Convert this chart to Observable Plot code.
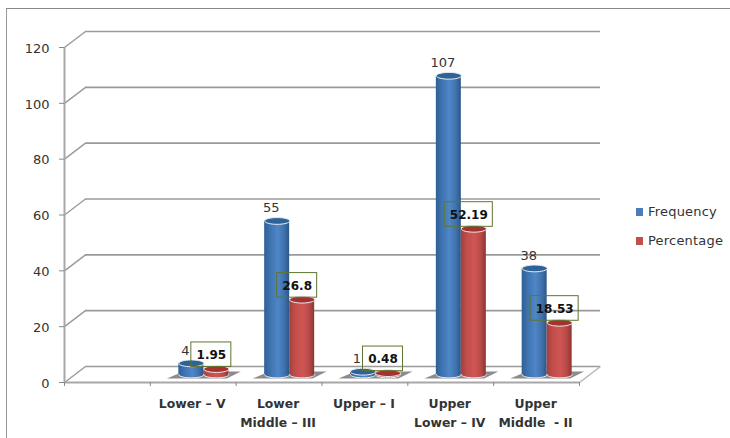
<!DOCTYPE html>
<html>
<head>
<meta charset="utf-8">
<script src="https://cdn.jsdelivr.net/npm/d3@7"></script>
<script src="https://cdn.jsdelivr.net/npm/@observablehq/plot@0.6"></script>
<style>
html, body { margin: 0; padding: 0; background: #fff; width: 730px; height: 438px; overflow: hidden; }
#wrap { position: relative; width: 730px; height: 438px; font-family: "DejaVu Sans", sans-serif; }
#wrap svg { position: absolute; left: 0; top: 0; }
#edge { position: absolute; left: 6px; top: 8px; right: 0; bottom: 0; border-left: 1.5px solid #999; border-top: 1.5px solid #888; }
#legend { position: absolute; left: 636px; top: 203px; font-size: 13px; color: #333; line-height: 18px; letter-spacing: 0.2px; }
#legend div { display: flex; align-items: center; height: 18px; margin-bottom: 11px; }
#legend i { display: inline-block; width: 7px; height: 8px; margin-right: 5px; }
g[aria-label="shadow"] { filter: blur(1.5px); }
</style>
</head>
<body>
<div id="wrap">
  <div id="edge"></div>
  <div id="chart"></div>
  <div id="legend">
    <div><i style="background:#4a7ebb"></i>Frequency</div>
    <div><i style="background:#c0504d"></i>Percentage</div>
  </div>
</div>
<script>
const categories = ["Lower – V", "Lower\nMiddle – III", "Upper – I", "Upper\nLower – IV", "Upper\nMiddle  - II"];
const frequency = [4, 55, 1, 107, 38];
const percentage = [1.95, 26.8, 0.48, 52.19, 18.53];
const yTicks = [0, 20, 40, 60, 80, 100, 120];
const xTicks = [0, 1, 2, 3, 4, 5, 6];

const W = 730, H = 438, mL = 64, mR = 151, mT = 47, mB = 56;
const pxX = (W - mL - mR) / 6, pxY = (H - mT - mB) / 120;
const depthX = 21 / pxX, depthY = 16 / pxY;
const barW = 25 / pxX, barStart = 28.5 / pxX;

const rows = categories.map((c, i) => {
  const slot = i + 1;
  const x1 = slot + barStart, x2 = x1 + barW, x3 = x2 + barW;
  const label = String(percentage[i]);
  return {c, slot, f: frequency[i], p: percentage[i], label, fx1: x1, fx2: x2, px1: x2, px2: x3,
    fc: (x1 + x2) / 2, pc: (x2 + x3) / 2, halfBox: (label.length > 4 ? 24 : 20) / pxX};
});

const ellipse = ratio => ({
  draw(ctx, size) {
    const rx = Math.sqrt(size / Math.PI), ry = rx * ratio, k = 0.5523;
    ctx.moveTo(-rx, 0);
    ctx.bezierCurveTo(-rx, -k * ry, -k * rx, -ry, 0, -ry);
    ctx.bezierCurveTo(k * rx, -ry, rx, -k * ry, rx, 0);
    ctx.bezierCurveTo(rx, k * ry, k * rx, ry, 0, ry);
    ctx.bezierCurveTo(-k * rx, ry, -rx, k * ry, -rx, 0);
    ctx.closePath();
  }
});
const disc = ellipse(0.27);
// floor shadow: a slanted patch, following the floor's perspective
const slant = {
  draw(ctx, size) {
    const r = Math.sqrt(size / Math.PI);
    ctx.moveTo(-r, r * 0.08);
    ctx.lineTo(-r * 0.55, -r * 0.11);
    ctx.lineTo(r, -r * 0.11);
    ctx.lineTo(r * 0.62, r * 0.08);
    ctx.closePath();
  }
};

const defs = () => {
  const d = d3.create("svg:defs");
  const grad = (id, stops) => {
    const g = d.append("linearGradient").attr("id", id).attr("x1", 0).attr("x2", 1).attr("y1", 0).attr("y2", 0);
    stops.forEach(([o, c]) => g.append("stop").attr("offset", o).attr("stop-color", c));
  };
  grad("blueCyl", [[0, "#2f5f96"], [0.25, "#3f74b2"], [0.55, "#4f86c6"], [0.8, "#3f72ae"], [1, "#2c5787"]]);
  grad("redCyl", [[0, "#a33f3c"], [0.25, "#c24f4c"], [0.55, "#cf5553"], [0.8, "#b84a47"], [1, "#8c3533"]]);
  return d.node();
};

const base = 8, edge = "#e9eef3", grid = "#9a9a9a";

const chart = Plot.plot({
  width: W, height: H,
  marginLeft: mL, marginRight: mR, marginTop: mT, marginBottom: mB,
  style: {fontFamily: "DejaVu Sans, sans-serif", background: "transparent", overflow: "visible"},
  x: {domain: [0, 6]},
  y: {domain: [0, 120]},
  marks: [
    defs,
    // walls and floor
    Plot.ruleY(yTicks, {x1: 0, x2: 6, dx: 21, dy: -16, stroke: grid, strokeWidth: 1.6}),
    Plot.link(yTicks, {x1: 0, y1: d => d, x2: depthX, y2: d => d + depthY, stroke: grid, strokeWidth: 1.4}),
    Plot.link([6], {x1: d => d, y1: 0, x2: d => d + depthX, y2: depthY, stroke: "#b5b5b5", strokeWidth: 1.4}),
    Plot.ruleY([0], {x1: 0, x2: 6, stroke: "#a8a8a8", strokeWidth: 2}),
    Plot.ruleX([0], {y1: 0, y2: 120, stroke: "#a8a8a8", strokeWidth: 2}),
    Plot.axisY({ticks: yTicks, tickSize: 5, tickFormat: () => "", label: null, stroke: "#888"}),
    Plot.axisY({ticks: yTicks, tickSize: 0, tickPadding: 15, dy: 1, label: null, fontSize: 13, color: "#333"}),
    Plot.axisX({ticks: xTicks, tickSize: 4, tickFormat: () => "", label: null, stroke: "#888"}),
    // shadows
    Plot.dot(rows, {x: "fx2", y: 0, dy: -base + 1, r: 37, symbol: slant, fill: "#8c8c8c", ariaLabel: "shadow"}),
    // frequency cylinders
    Plot.dot(rows, {x: "fc", y: 0, dy: -base, r: 12.5, symbol: disc, fill: "url(#blueCyl)", stroke: edge, strokeWidth: 1}),
    Plot.rectY(rows, {x1: "fx1", x2: "fx2", y1: 0, y2: "f", dy: -base, fill: "url(#blueCyl)"}),
    Plot.dot(rows, {x: "fc", y: "f", dy: -base, r: 12.5, symbol: disc, fill: "#2f6296", stroke: edge, strokeWidth: 1}),
    // percentage cylinders
    Plot.dot(rows, {x: "pc", y: 0, dy: -base, r: 12.5, symbol: disc, fill: "url(#redCyl)", stroke: edge, strokeWidth: 1}),
    Plot.rectY(rows, {x1: "px1", x2: "px2", y1: 0, y2: "p", dy: -base, fill: "url(#redCyl)"}),
    Plot.dot(rows, {x: "pc", y: "p", dy: -base, r: 12.5, symbol: disc, fill: "#a5322f", stroke: edge, strokeWidth: 1}),
    // frequency labels
    Plot.text(rows, {x: "fc", y: "f", text: d => String(d.f), dx: -6, dy: -base - 13, fontSize: 13, fill: "#333"}),
    // percentage label boxes
    Plot.rect(rows, {
      x1: d => d.pc - d.halfBox, x2: d => d.pc + d.halfBox,
      y1: "p", y2: d => d.p + 24.6 / pxY,
      dx: -5, dy: -base - 2,
      fill: "none", stroke: "#5f7530", strokeWidth: 1
    }),
    Plot.text(rows, {x: "pc", y: "p", text: "label", dx: -5, dy: -base - 14, fontSize: 12, fontWeight: "bold", fill: "#111"}),
    // category labels
    Plot.text(rows, {x: d => d.slot + 0.5, y: 0, text: "c", dx: -1, lineAnchor: "top", dy: 12, lineHeight: 1.55, fontSize: 12.4, fontWeight: "bold", fill: "#333"})
  ]
});
document.getElementById("chart").appendChild(chart);
</script>
</body>
</html>
